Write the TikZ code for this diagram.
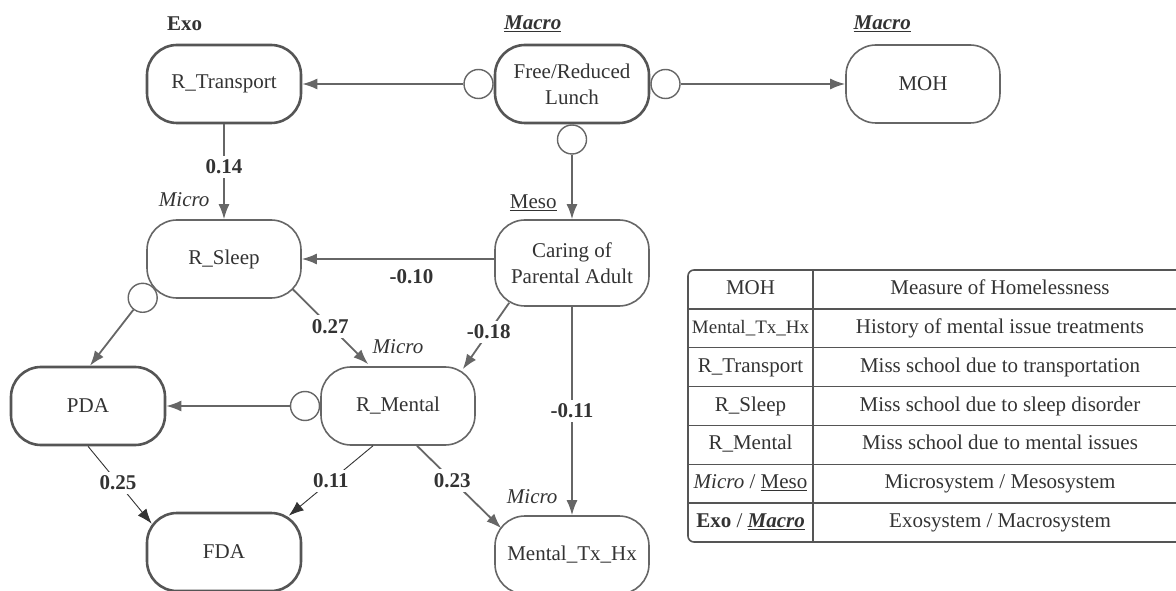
\documentclass[tikz,border=0pt]{standalone}
\usepackage{fontspec}
\setmainfont{Liberation Serif}
\usetikzlibrary{positioning, arrows.meta}
\definecolor{ink}{HTML}{333333}
\definecolor{wire}{HTML}{666666}
\definecolor{rim}{HTML}{555555}
\tikzset{
x=1pt, y=1pt, % one unit is one pixel of the sketch
>={Latex[length=15pt,width=11pt]}, % filled arrow heads
->, % every connector is directed
node distance=348pt, % spacing of the two main columns
every node/.style={text=ink, font=\fontsize{21}{26}\selectfont},
var/.style={draw=wire, line width=1.6pt, rounded corners=30pt, minimum width=154pt, minimum height=78pt, align=center, fill=white},
key/.style={var, draw=rim, line width=2.6pt}, % the bold outlined variables
knob/.style={circle, draw=wire, line width=1.4pt, fill=white, minimum size=29pt, inner sep=0pt},
link/.style={wire, line width=1.8pt},
faint/.style={draw=ink, line width=0.9pt},
coef/.style={fill=white, inner sep=4pt, font=\bfseries\fontsize{21}{26}\selectfont},
cell/.style={text height=15pt, text depth=5pt, inner sep=0pt},
}

\begin{document}
\begin{tikzpicture}
    \useasboundingbox (0,0) rectangle (1176,590);
    \node[key] (rtrans) at (224,506) {R\_Transport};
    \node[key, right of=rtrans] (lunch) {Free/Reduced\\Lunch};
    \node[var, node distance=351pt, right of=lunch] (moh) {MOH};
    \node[var, node distance=175pt, below of=rtrans] (rsleep) {R\_Sleep};
    \node[var, minimum height=86pt] (caring) at (572,327) {Caring of\\Parental Adult};
    \node[var] (rmental) at (398,184) {R\_Mental};
    \node[key, node distance=310pt, left of=rmental] (pda) {PDA};
    \node[key, node distance=293pt, below of=rsleep] (fda) {FDA};
    \node[var, node distance=292pt, below of=caring] (mtx) {Mental\_Tx\_Hx};

    \node[knob, left=0pt of lunch] (cL) {};
    \node[knob, right=0pt of lunch] (cR) {};
    \node[knob, below=0pt of lunch] (cB) {};
    \node[knob] (cS) at ([xshift=-3.5pt,yshift=1pt]rsleep.south west) {};
    \node[knob, left=0pt of rmental] (cM) {};

    \node (exo) at ([xshift=39pt,yshift=20pt]rtrans.north west) {\textbf{Exo}};
    \node (macroA) at ([xshift=39pt,yshift=20pt]lunch.north west) {\underline{\textbf{\textit{Macro}}}};
    \node (macroB) at ([xshift=37pt,yshift=20pt]moh.north west) {\underline{\textbf{\textit{Macro}}}};
    \node (microA) at ([xshift=38pt,yshift=20pt]rsleep.north west) {\textit{Micro}};
    \node (meso) at ([xshift=39pt,yshift=16pt]caring.north west) {\underline{Meso}};
    \node (microB) at ([yshift=20pt]rmental.north) {\textit{Micro}};
    \node (microC) at ([xshift=38pt,yshift=19pt]mtx.north west) {\textit{Micro}};

    \path[link]
    (cL) edge (rtrans)
    (cR) edge (moh)
    (cB) edge (caring)
    (rtrans) edge node[coef, pos=0.45] {0.14} (rsleep)
    (caring.west |- rsleep) edge node[coef, below=6pt, pos=0.43] {-0.10} (rsleep)
    ([xshift=-9.5pt,yshift=10pt]rsleep.south east) edge node[coef] {0.27} ([xshift=48pt,yshift=2pt]rmental.north west)
    ([xshift=15pt,yshift=4pt]caring.south west) edge node[coef, pos=0.44] {-0.18} ([xshift=-13pt,yshift=-3pt]rmental.north east)
    (caring) edge node[coef] {-0.11} (mtx)
    (cS) edge ([xshift=2pt]pda.north)
    (cM) edge (pda)
    (pda.south) edge[faint] node[coef, pos=0.47] {0.25} ([xshift=6pt,yshift=-12pt]fda.north west)
    ([xshift=-25pt]rmental.south) edge[faint] node[coef] {0.11} ([xshift=-13.5pt,yshift=-4pt]fda.north east)
    ([xshift=19pt]rmental.south) edge node[coef, pos=0.42] {0.23} ([xshift=7pt,yshift=-13pt]mtx.north west);

    \draw[-, rim, line width=1.6pt, rounded corners=6pt] (688,48) rectangle (1190,320);
    \draw[-, rim, line width=1.6pt] (813,48) -- (813,320);
    \foreach \r in {1,...,6}
        \draw[-, rim, line width=1.4pt] (688,{320-38.86*\r}) -- (1190,{320-38.86*\r});
    \foreach \k/\d [count=\i] in {
        MOH/Measure of Homelessness,
        {\fontsize{19}{24}\selectfont Mental\_Tx\_Hx}/History of mental issue treatments,
        R\_Transport/Miss school due to transportation,
        R\_Sleep/Miss school due to sleep disorder,
        R\_Mental/Miss school due to mental issues,
        {\textit{Micro} / \underline{Meso}}/{Microsystem / Mesosystem},
        {\textbf{Exo} / \underline{\textbf{\textit{Macro}}}}/{Exosystem / Macrosystem}}
    {
        \node[cell] (k\i) at (750.5,{320-38.86*(\i-0.5)}) {\k};
        \node[cell] (d\i) at (1000,{320-38.86*(\i-0.5)}) {\d};
    }
\end{tikzpicture}
\end{document}
